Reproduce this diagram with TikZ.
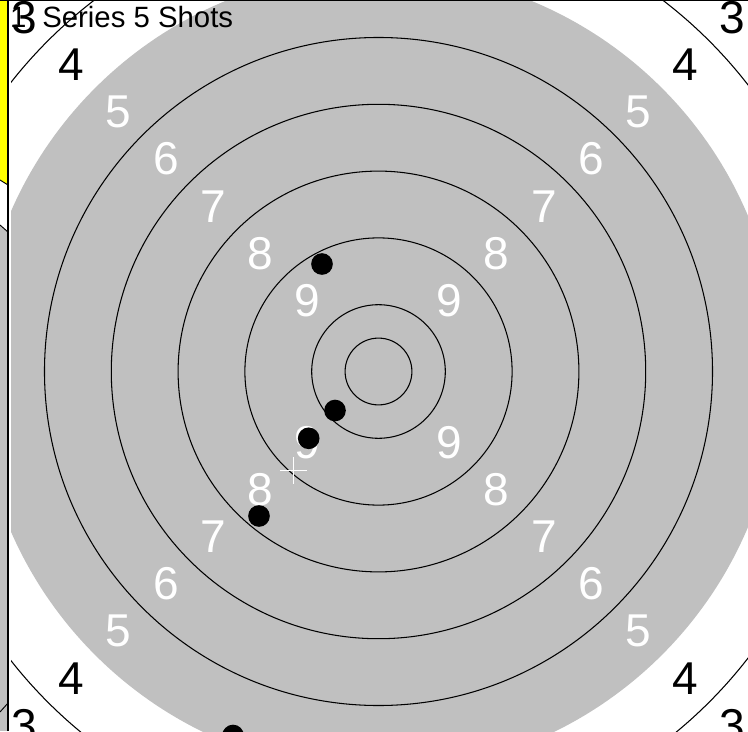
\documentclass[tikz,border=0pt]{standalone}
\usepackage{fontspec}
\setmainfont{Liberation Sans}
\definecolor{targetgray}{HTML}{C0C0C0}
\definecolor{tabyellow}{HTML}{FFFF00}
\tikzset{
  ring/.style={line width=0.45pt},
  ringlabel/.style={inner sep=0pt, font=\fontsize{19.6}{22}\selectfont},
  titletext/.style={inner sep=0pt, anchor=base west, font=\fontsize{12.5}{14}\selectfont},
  shot/.style={fill=black},
}
\begin{document}
\begin{tikzpicture}
\useasboundingbox (-5.666,-5.382) rectangle (5.531,5.561);
% strip at the left
\fill[targetgray] (-5.666,-5.382) rectangle (-5.546,5.561);
\fill[tabyellow] (-5.666,5.561) -- (-5.666,2.867) -- (-5.546,2.792) -- (-5.546,5.561) -- cycle;
\fill[white] (-5.666,2.867) -- (-5.546,2.792) -- (-5.546,2.088) -- (-5.666,2.193) -- cycle;
\draw[line width=0.4pt] (-5.666,2.867) -- (-5.546,2.792);
\draw[line width=0.4pt] (-5.666,2.193) -- (-5.546,2.088);
\draw[line width=0.4pt] (-5.666,-5.097) -- (-5.546,-4.963);
% target panel
\fill[white] (-5.546,-5.382) rectangle (5.531,5.561);
\begin{scope}
\clip (-5.501,-5.382) rectangle (5.531,5.546);
\fill[targetgray] (0,0) circle (6);
\foreach \r in {0.5,1,2,3,4,5,7}
  {\draw[ring] (0,0) circle (\r);}
\foreach \n/\c in {3/black,4/black,5/white,6/white,7/white,8/white,9/white}
  \foreach \a in {45,135,225,315}
    {\node[ringlabel, text=\c] (lbl\n-\a) at (\a:10.5-\n) {\n};}
\node[titletext] (seriesno) at (-5.52,5.153) {1};
\node[titletext] (title) at (-5.04,5.153) {Series 5 Shots};
\foreach \x/\y in {-0.846/1.609,-0.651/-0.584,-1.045/-1.000,-1.789/-2.163,-2.178/-5.449}
  {\fill[shot] (\x,\y) circle (0.162);}
\draw[white, line width=0.45pt] (-1.475,-1.480) -- (-1.075,-1.480) (-1.275,-1.280) -- (-1.275,-1.680);
\end{scope}
\draw[line width=0.45pt] (-5.546,-5.382) -- (-5.546,5.561);
\draw[line width=0.45pt] (-5.666,5.554) -- (5.531,5.554);
\end{tikzpicture}
\end{document}
